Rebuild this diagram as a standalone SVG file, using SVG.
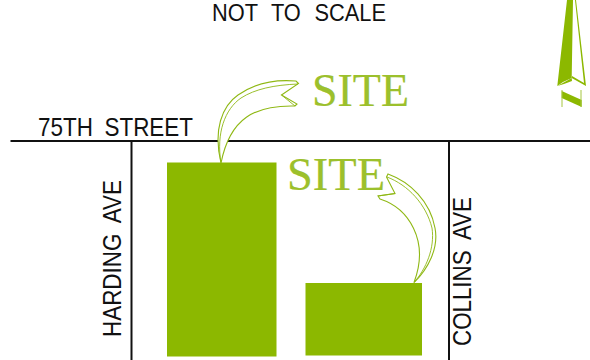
<svg xmlns="http://www.w3.org/2000/svg" width="590" height="360" viewBox="0 0 590 360">
<style>
.lbl{font-family:"Liberation Sans",Arial,sans-serif;font-size:25px;fill:#111;word-spacing:6px}
.top{font-size:23px;word-spacing:8px}
.site{font-family:"Liberation Serif","Times New Roman",serif;font-size:46px;fill:#9cc02c;stroke:#9cc02c;stroke-width:.2}
.road{stroke:#111;stroke-width:2;fill:none}
.arr{fill:#fff;stroke:#8fb814;stroke-width:1.1}
.arr2{fill:none;stroke:#8fb814;stroke-width:.9}
.bld{fill:#8cb800}
</style>
<rect width="590" height="360" fill="#fff"/>
<g id="connectors">
<path class="road" d="M10.500 141H590"/>
<path class="road" d="M131.500 141V360"/>
<path class="road" d="M449 141V360"/>
</g>
<g id="site-a"><rect class="bld" x="167" y="162.500" width="109.500" height="194"/></g>
<g id="site-b"><rect class="bld" x="305.500" y="283" width="116.500" height="72.500"/></g>
<g id="arrow-a">
<path class="arr" d="M221 163C213 130 222 106 238 95C252 85 272 79 296 81L298.500 83.500L281.500 95L297 104L295 106C255 105 230 118 221 163Z"/>
<path class="arr2" d="M221 163C216 133 225 109 241 98C255 89 274 85 298 84M281.500 95L295 106"/>
</g>
<g id="arrow-b">
<path class="arr" d="M414 282.500C428 269 439 248 435 228C430 201 410 182 388 174L386.500 177L395 193.500L378 196L380 199C408 208 430 240 414 282.500Z"/>
<path class="arr2" d="M414 282.500C426 269 435 248 432 228C426 204 408 185 387 177M378 196L395 193.500"/>
</g>
<g id="north-arrow">
<path fill="#8cb800" d="M567 0H573L571.700 78L563 82L557.300 86Z"/>
<path fill="#8cb800" d="M575 0H576L586 86L571.700 78L572 76L584 83Z"/>
<path fill="#8cb800" d="M557.300 86L571.700 78L572 81L564 84Z"/>
<path fill="#8cb800" d="M561.700 91L581.700 100V107L561.700 98Z"/>
<path fill="none" stroke="#a5c63f" stroke-width="1" d="M562 90V107M581 90V107"/>
</g>
<g id="labels">
<text class="lbl top" x="212" y="20.500" textLength="174" lengthAdjust="spacingAndGlyphs">NOT TO SCALE</text>
<text class="lbl" x="38" y="136" textLength="155" lengthAdjust="spacingAndGlyphs">75TH STREET</text>
<text class="lbl" transform="translate(120.500 337) rotate(-90)" textLength="157" lengthAdjust="spacingAndGlyphs">HARDING AVE</text>
<text class="lbl" transform="translate(471 346) rotate(-90)" textLength="149" lengthAdjust="spacingAndGlyphs">COLLINS AVE</text>
<text class="site" x="312" y="106" textLength="97" lengthAdjust="spacingAndGlyphs">SITE</text>
<text class="site" x="287" y="190" textLength="98" lengthAdjust="spacingAndGlyphs">SITE</text>
</g>
</svg>
